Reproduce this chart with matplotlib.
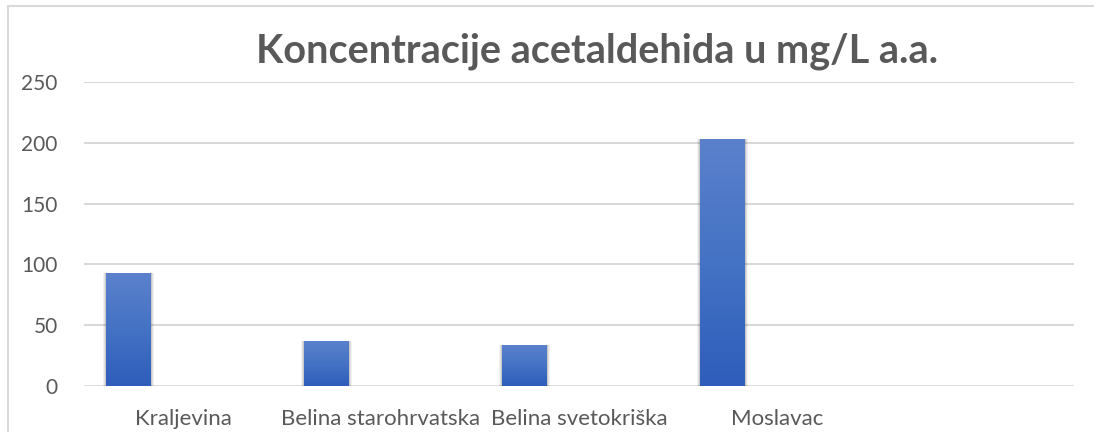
import matplotlib
matplotlib.use("Agg")
import matplotlib.pyplot as plt
import numpy as np
from matplotlib.patches import Rectangle
from matplotlib.colors import LinearSegmentedColormap

categories = ["Kraljevina", "Belina starohrvatska", "Belina svetokriška", "Moslavac", ""]
values = [92.6, 36.8, 33.5, 203.2, None]
yticks = [0, 50, 100, 150, 200, 250]
title = "Koncentracije acetaldehida u mg/L a.a."

plt.rcParams['font.family'] = ['Lato', 'DejaVu Sans']
W, H = 1094, 432
fig = plt.figure(figsize=(W / 100, H / 100), dpi=100)
fig.patch.set_facecolor("white")

# outer chart border
fig.add_artist(Rectangle((8 / W, -0.1), 1.2, (H - 5.5) / H + 0.1, transform=fig.transFigure,
                         fill=False, edgecolor="#D9D9D9", linewidth=1.5))

ax = fig.add_axes([84 / W, 46.3 / H, 990 / W, 303.5 / H])
ax.set_xlim(-0.5, len(categories) - 0.5)
ax.set_ylim(0, 250)
for s in ax.spines.values():
    s.set_visible(False)
ax.set_yticks(yticks)
ax.set_yticklabels([str(t) for t in yticks], fontsize=15, color="#595959")
ax.tick_params(axis="y", length=0, pad=19)
ax.set_xticks(range(len(categories)))
ax.set_xticklabels(categories, fontsize=16, color="#595959")
ax.tick_params(axis="x", length=0, pad=17)
for t in yticks:
    ax.axhline(t, color="#D9D9D9", linewidth=1.5 if t else 2.0, zorder=1)

cmap = LinearSegmentedColormap.from_list("g", ["#2E5DBB", "#4472C4", "#5B81CC"])
bw = 45 / 198
off = -0.5 + 22 / 198
grad = np.linspace(0, 1, 256).reshape(-1, 1)
for i, v in enumerate(values):
    if v is None:
        continue
    x0 = i + off
    # soft shadow
    for k, a in zip([3, 2, 1], [0.05, 0.07, 0.10]):
        dx = k * 1.0 / 198
        dy = k * 250 / 303.5
        ax.add_patch(Rectangle((x0 - dx, 0 - dy), bw + 2 * dx, v + 2 * dy * 0.5,
                               facecolor="black", alpha=a, edgecolor="none", zorder=2))
    rect = Rectangle((x0, 0), bw, v, facecolor="none", edgecolor="none", zorder=3)
    ax.add_patch(rect)
    im = ax.imshow(grad, cmap=cmap, extent=(x0, x0 + bw, 0, v), origin="lower",
                   aspect="auto", zorder=3)
    im.set_clip_path(rect)
ax.set_xlim(-0.5, len(categories) - 0.5)
ax.set_ylim(0, 250)

fig.text(597 / W, 1 - 51 / H, title, ha="center", va="center", fontsize=28.5,
         fontweight="bold", color="#595959")

fig.savefig("out.png", dpi=100, facecolor="white")
